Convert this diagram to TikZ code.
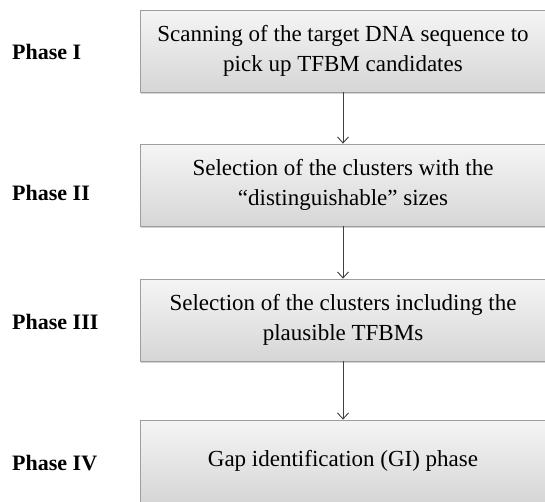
\documentclass[tikz,border=0pt]{standalone}
\usepackage{fontspec}
\setmainfont{Liberation Serif}
\usetikzlibrary{arrows.meta,shadows}
\begin{document}
\begin{tikzpicture}[x=1pt,y=-1pt,
  phasebox/.style={draw=black!38, line width=0.8pt, minimum width=406pt, minimum height=82pt,
    top color=white!96!black, bottom color=black!16, align=center,
    font=\fontsize{23}{30}\selectfont, inner sep=0pt,
    drop shadow={shadow xshift=1pt, shadow yshift=-1.5pt, opacity=0.35, fill=black!50}},
  phaselabel/.style={anchor=west, font=\fontsize{22}{26}\selectfont\bfseries, inner sep=0pt},
  flow/.style={draw=black!75, line width=0.9pt, -{Straight Barb[length=6pt,width=11pt,line width=0.9pt]}}
]
\useasboundingbox (0,0) rectangle (545,501);
\node[phasebox] (b1) at (343,51) {Scanning of the target DNA sequence to\\pick up TFBM candidates};
\node[phasebox] (b2) at (343,185) {Selection of the clusters with the\\“distinguishable” sizes};
\node[phasebox] (b3) at (343,320) {Selection of the clusters including the\\plausible TFBMs};
\node[phasebox] (b4) at (343,461) {Gap identification (GI) phase};
\node[phaselabel] (l1) at (12,52) {Phase I};
\node[phaselabel] (l2) at (12,193) {Phase II};
\node[phaselabel] (l3) at (12,322) {Phase III};
\node[phaselabel] (l4) at (12,463) {Phase IV};
\draw[flow] (b1) -- (b2);
\draw[flow] (b2) -- (b3);
\draw[flow] (b3) -- (b4);
\end{tikzpicture}
\end{document}
